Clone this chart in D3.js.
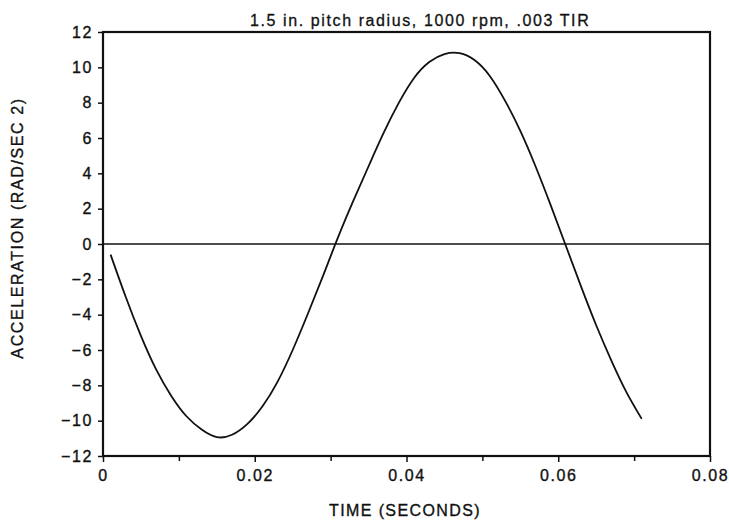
<!DOCTYPE html>
<html>
<head>
<meta charset="utf-8">
<script src="https://d3js.org/d3.v7.min.js"></script>
<style>
  body { margin: 0; background: #fff; }
  svg { display: block; }
  text { font-family: "Liberation Sans", Arial, sans-serif; fill: #111; }
</style>
</head>
<body>
<div id="chart"></div>
<script>
// Data
const times = [0.001, 0.003, 0.005, 0.007, 0.009, 0.011, 0.013, 0.015, 0.017, 0.019,
  0.021, 0.023, 0.025, 0.027, 0.029, 0.031, 0.033, 0.035, 0.037, 0.039,
  0.041, 0.043, 0.045, 0.047, 0.049, 0.051, 0.053, 0.055, 0.057, 0.059,
  0.061, 0.063, 0.065, 0.067, 0.069, 0.071];
const accel = [-0.6, -3.0, -5.2, -7.1, -8.6, -9.75, -10.5, -10.93, -10.8, -10.2,
  -9.2, -7.8, -6.0, -3.95, -1.8, 0.4, 2.45, 4.4, 6.3, 8.0,
  9.4, 10.3, 10.75, 10.8, 10.4, 9.5, 8.1, 6.4, 4.4, 2.2,
  -0.1, -2.4, -4.6, -6.6, -8.4, -9.9];
const xTicks = [0, 0.02, 0.04, 0.06, 0.08];
const xMinorTicks = [0.01, 0.03, 0.05, 0.07];
const yTicks = [12, 10, 8, 6, 4, 2, 0, -2, -4, -6, -8, -10, -12];

const title = "1.5 in. pitch radius, 1000 rpm, .003 TIR";
const xTitle = "TIME (SECONDS)";
const yTitle = "ACCELERATION (RAD/SEC 2)";

const width = 729, height = 522;
const margin = { left: 103, right: 19, top: 32, bottom: 66 };

const svg = d3.select('#chart').append('svg')
  .attr('width', width)
  .attr('height', height);

const x = d3.scaleLinear().domain([0, 0.08]).range([margin.left, width - margin.right]);
const y = d3.scaleLinear().domain([-12, 12]).range([height - margin.bottom, margin.top]);

// x axis (major + minor ticks)
const fmtX = d => d === 0 ? '0' : d3.format('.2f')(d);
svg.append('g')
  .attr('transform', `translate(0,${y(-12)})`)
  .call(d3.axisBottom(x).tickValues(xTicks).tickFormat(fmtX).tickSize(6).tickPadding(8));
svg.append('g')
  .attr('transform', `translate(0,${y(-12)})`)
  .call(d3.axisBottom(x).tickValues(xMinorTicks).tickFormat('').tickSize(5));

// y axis
const fmtY = d => d < 0 ? '\u2212' + Math.abs(d) : String(d);
svg.append('g')
  .attr('transform', `translate(${x(0)},0)`)
  .call(d3.axisLeft(y).tickValues(yTicks).tickFormat(fmtY).tickSize(5).tickPadding(5));

svg.selectAll('.tick line').attr('stroke', '#111').attr('stroke-width', 1.5);
svg.selectAll('.domain').remove();
svg.selectAll('.tick text')
  .style('font-family', '"Liberation Sans", Arial, sans-serif')
  .style('font-size', '16px')
  .style('letter-spacing', '1.6px')
  .attr('fill', '#111')
  .attr('stroke', '#111')
  .attr('stroke-width', 0.35);

// frame
svg.append('rect')
  .attr('x', x(0)).attr('y', y(12))
  .attr('width', x(0.08) - x(0)).attr('height', y(-12) - y(12))
  .attr('fill', 'none').attr('stroke', '#111').attr('stroke-width', 2.2);

// zero line
svg.append('line')
  .attr('x1', x(0)).attr('x2', x(0.08))
  .attr('y1', y(0)).attr('y2', y(0))
  .attr('stroke', '#111').attr('stroke-width', 1.6);

// curve
const line = d3.line()
  .x((d, i) => x(times[i]))
  .y(d => y(d))
  .curve(d3.curveNatural);
svg.append('path')
  .datum(accel)
  .attr('d', line)
  .attr('fill', 'none')
  .attr('stroke', '#111')
  .attr('stroke-width', 1.8);

// titles
svg.append('text')
  .attr('x', 250).attr('y', 26)
  .attr('font-size', 16)
  .attr('letter-spacing', '1.6px')
  .attr('stroke', '#111').attr('stroke-width', 0.3)
  .text(title);

svg.append('text')
  .attr('x', 405).attr('y', 516)
  .attr('text-anchor', 'middle')
  .attr('font-size', 16)
  .attr('letter-spacing', '1.4px')
  .attr('stroke', '#111').attr('stroke-width', 0.35)
  .text(xTitle);

svg.append('text')
  .attr('transform', `translate(23,${228}) rotate(-90)`)
  .attr('text-anchor', 'middle')
  .attr('font-size', 16)
  .attr('letter-spacing', '1.6px')
  .attr('stroke', '#111').attr('stroke-width', 0.35)
  .text(yTitle);
</script>
</body>
</html>
